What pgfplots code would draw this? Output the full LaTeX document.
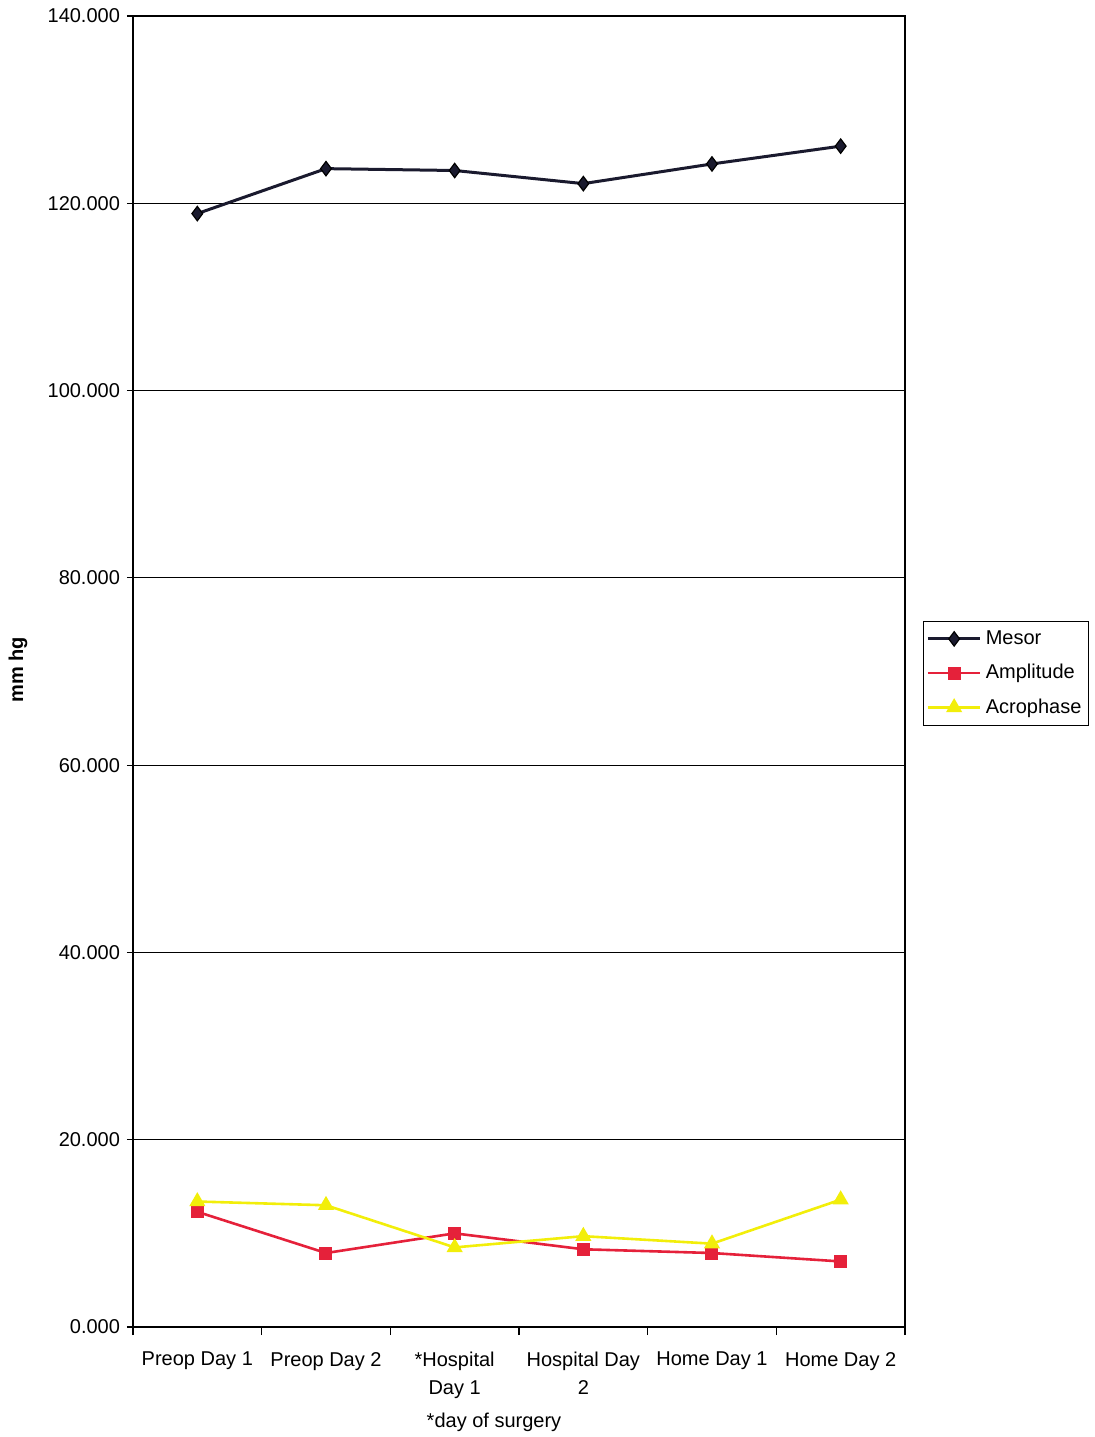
\documentclass[border=0pt]{standalone}
\usepackage{fontspec}
\setmainfont{Liberation Sans}
\usepackage{pgfplots}
\pgfplotsset{compat=1.18}

\definecolor{mesorc}{HTML}{1A1A2E}
\definecolor{ampc}{HTML}{E5213A}
\definecolor{acroc}{HTML}{F2EE0A}

\begin{document}
\begin{tikzpicture}
\useasboundingbox (-66.5pt,-55pt) rectangle (480.5pt,663.5pt);
\begin{axis}[
  at={(0,0)}, anchor=south west,
  scale only axis,
  width=386pt, height=655.5pt,
  xmin=0.5, xmax=6.5,
  ymin=0, ymax=140,
  xtick={1,2,3,4,5,6},
  xticklabels={Preop Day 1, Preop Day 2, {*Hospital\\Day 1}, {Hospital Day\\2}, Home Day 1, Home Day 2},
  xticklabel style={align=center, font=\fontsize{10}{14}\selectfont, yshift=-6pt},
  minor xtick={0.5,1.5,...,6.5},
  ytick={0,20,...,140},
  yticklabel style={font=\fontsize{10}{12}\selectfont},
  /pgf/number format/assume math mode=true,
  yticklabel={\pgfmathprintnumber[fixed,fixed zerofill,precision=3,1000 sep={}]{\tick}},
  xtick pos=bottom, ytick pos=left,
  tick align=outside,
  x tick style={draw=none},
  minor x tick style={draw=black, line width=0.8pt},
  minor tick length=4pt,
  y tick style={black, line width=0.6pt},
  major tick length=3pt,
  ymajorgrids,
  grid style={black, line width=0.5pt},
  axis line style={black, line width=1.1pt},
  legend style={at={(1.0233,0.5385)}, anchor=north west,
    draw=black, line width=0.5pt, font=\fontsize{10}{12}\selectfont,
    row sep=4.5pt, inner ysep=2.5pt, inner xsep=1.5pt},
  legend cell align=left,
  legend image code/.code={
    \draw[#1] (0cm,0cm) -- (0.92cm,0cm);
    \draw[#1, only marks] plot coordinates {(0.46cm,0cm)};
  },
]
\addplot[mesorc, line width=1.5pt, mark=diamond*, mark size=3.6pt,
  mark options={fill=mesorc, draw=black, line width=0.6pt}]
  coordinates {(1,118.9) (2,123.7) (3,123.5) (4,122.1) (5,124.2) (6,126.1)};
\addlegendentry{Mesor}
\addplot[ampc, line width=1.3pt, mark=square*, mark size=2.6pt,
  mark options={fill=ampc, draw=ampc}]
  coordinates {(1,12.3) (2,7.9) (3,10.0) (4,8.3) (5,7.9) (6,7.0)};
\addlegendentry{Amplitude}
\addplot[acroc, line width=1.3pt, mark=triangle*, mark size=3.4pt,
  mark options={fill=acroc, draw=acroc}]
  coordinates {(1,13.4) (2,13.0) (3,8.5) (4,9.7) (5,8.9) (6,13.6)};
\addlegendentry{Acrophase}
\end{axis}
\node[rotate=90, font=\fontsize{10}{12}\selectfont\bfseries] at (-57.5pt,328.5pt) {mm hg};
\node[font=\fontsize{10}{12}\selectfont] at (180.5pt,-47.5pt) {*day of surgery};
\end{tikzpicture}
\end{document}
